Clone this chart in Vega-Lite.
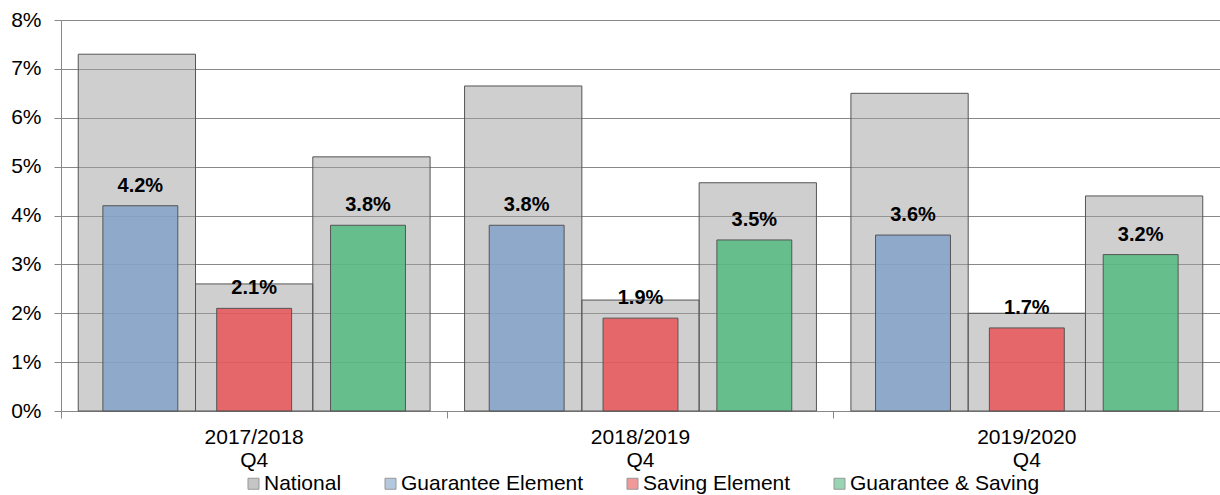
{
  "$schema": "https://vega.github.io/schema/vega-lite/v6.json",
  "width": 1159,
  "height": 391,
  "autosize": {"type": "none"},
  "padding": {"left": 61, "top": 20, "right": 0, "bottom": 84},
  "background": "white",
  "datasets": {
    "national": [
      {"group": "2017/2018 Q4", "slot": "Guarantee Element", "series": "National", "value": 0.073},
      {"group": "2017/2018 Q4", "slot": "Saving Element", "series": "National", "value": 0.026},
      {"group": "2017/2018 Q4", "slot": "Guarantee & Saving", "series": "National", "value": 0.052},
      {"group": "2018/2019 Q4", "slot": "Guarantee Element", "series": "National", "value": 0.0665},
      {"group": "2018/2019 Q4", "slot": "Saving Element", "series": "National", "value": 0.0227},
      {"group": "2018/2019 Q4", "slot": "Guarantee & Saving", "series": "National", "value": 0.0467},
      {"group": "2019/2020 Q4", "slot": "Guarantee Element", "series": "National", "value": 0.065},
      {"group": "2019/2020 Q4", "slot": "Saving Element", "series": "National", "value": 0.020},
      {"group": "2019/2020 Q4", "slot": "Guarantee & Saving", "series": "National", "value": 0.044}
    ],
    "elements": [
      {"group": "2017/2018 Q4", "slot": "Guarantee Element", "series": "Guarantee Element", "value": 0.042},
      {"group": "2017/2018 Q4", "slot": "Saving Element", "series": "Saving Element", "value": 0.021},
      {"group": "2017/2018 Q4", "slot": "Guarantee & Saving", "series": "Guarantee & Saving", "value": 0.038},
      {"group": "2018/2019 Q4", "slot": "Guarantee Element", "series": "Guarantee Element", "value": 0.038},
      {"group": "2018/2019 Q4", "slot": "Saving Element", "series": "Saving Element", "value": 0.019},
      {"group": "2018/2019 Q4", "slot": "Guarantee & Saving", "series": "Guarantee & Saving", "value": 0.035},
      {"group": "2019/2020 Q4", "slot": "Guarantee Element", "series": "Guarantee Element", "value": 0.036},
      {"group": "2019/2020 Q4", "slot": "Saving Element", "series": "Saving Element", "value": 0.017},
      {"group": "2019/2020 Q4", "slot": "Guarantee & Saving", "series": "Guarantee & Saving", "value": 0.032}
    ]
  },
  "config": {
    "view": {"stroke": null},
    "font": "Liberation Sans",
    "axisY": {
      "domainColor": "#888888",
      "tickColor": "#888888",
      "gridColor": "#888888",
      "tickSize": 7,
      "labelPadding": 13,
      "labelFontSize": 21,
      "labelFont": "Liberation Sans",
      "labelColor": "#000000"
    },
    "axisX": {
      "labelFontSize": 21,
      "labelFont": "Liberation Sans",
      "labelColor": "#000000",
      "labelLineHeight": 23,
      "grid": false,
      "domain": false
    },
    "legend": {
      "labelFont": "Liberation Sans",
      "labelFontSize": 21,
      "labelColor": "#000000",
      "labelLimit": 0
    }
  },
  "layer": [
    {
      "data": {"name": "national"},
      "mark": {"type": "bar", "fillOpacity": 0.5, "stroke": "#555555", "strokeWidth": 1},
      "encoding": {
        "x": {
          "field": "group", "type": "nominal", "sort": null,
          "scale": {"paddingInner": 0, "paddingOuter": 0},
          "axis": {"orient": "bottom", "labels": false, "ticks": true, "bandPosition": 0, "tickSize": 7, "tickColor": "#888888", "title": null}
        },
        "xOffset": {
          "field": "slot", "type": "nominal",
          "sort": ["Guarantee Element", "Saving Element", "Guarantee & Saving"],
          "scale": {"paddingInner": 0, "paddingOuter": 0.147}
        },
        "y": {
          "field": "value", "type": "quantitative",
          "scale": {"domain": [0, 0.08], "nice": false},
          "axis": {"values": [0, 0.01, 0.02, 0.03, 0.04, 0.05, 0.06, 0.07, 0.08], "format": ".0%", "title": null}
        },
        "color": {
          "field": "series", "type": "nominal",
          "scale": {
            "domain": ["National", "Guarantee Element", "Saving Element", "Guarantee & Saving"],
            "range": ["#a0a0a0", "#82a2c8", "#e95558", "#55bb81"]
          },
          "legend": {
            "orient": "none", "legendX": 182, "legendY": 453,
            "direction": "horizontal", "title": null,
            "symbolType": "square", "symbolSize": 121,
            "symbolOpacity": 0.6,
            "symbolStrokeColor": "#666666", "symbolStrokeWidth": 1,
            "columnPadding": 38, "labelOffset": 0, "labelLimit": 0
          }
        }
      }
    },
    {
      "data": {"name": "elements"},
      "encoding": {
        "x": {
          "field": "group", "type": "nominal", "sort": null,
          "scale": {"paddingInner": 0, "paddingOuter": 0},
          "axis": {"orient": "bottom", "labels": true, "ticks": false, "tickSize": 0, "labelPadding": 15, "labelAngle": 0, "labelBaseline": "top", "labelExpr": "split(datum.label, ' ')", "title": null}
        },
        "xOffset": {
          "field": "slot", "type": "nominal",
          "sort": ["Guarantee Element", "Saving Element", "Guarantee & Saving"],
          "scale": {"paddingInner": 0.342, "paddingOuter": 0.368}
        },
        "y": {
          "field": "value", "type": "quantitative",
          "scale": {"domain": [0, 0.08], "nice": false},
          "axis": {"values": [0, 0.01, 0.02, 0.03, 0.04, 0.05, 0.06, 0.07, 0.08], "format": ".0%", "title": null}
        }
      },
      "layer": [
        {
          "mark": {"type": "bar", "fillOpacity": 0.85, "stroke": "#555555", "strokeWidth": 1},
          "encoding": {
            "color": {"field": "series", "type": "nominal"}
          }
        },
        {
          "mark": {"type": "text", "fontWeight": "bold", "fontSize": 20, "font": "Liberation Sans", "dy": -14, "baseline": "alphabetic", "color": "#000000"},
          "encoding": {
            "text": {"field": "value", "type": "quantitative", "format": ".1%"}
          }
        }
      ]
    }
  ],
  "resolve": {"scale": {"xOffset": "independent"}, "axis": {"x": "independent"}}
}
